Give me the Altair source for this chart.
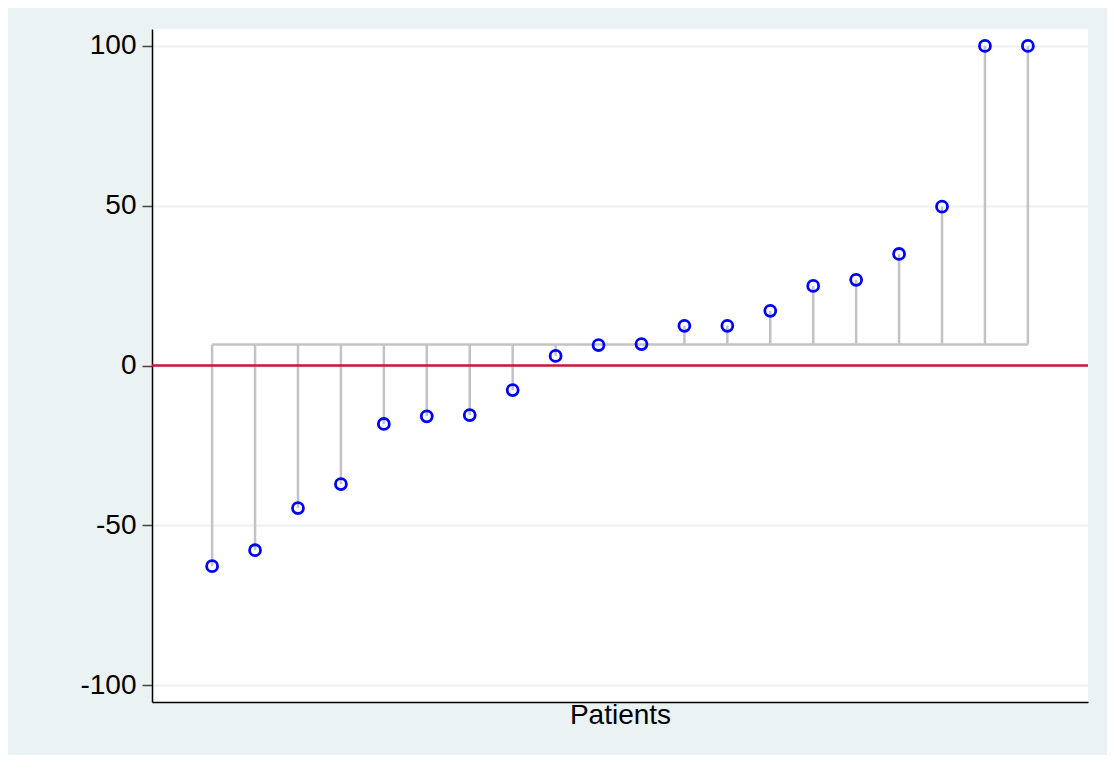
import altair as alt
import pandas as pd

patients = list(range(1, 21))
values = [-62.8, -57.8, -44.6, -37.1, -18.3, -15.9, -15.5, -7.7, 3.0, 6.4,
          6.7, 12.4, 12.4, 17.1, 24.9, 26.8, 34.9, 49.7, 100, 100]
baseline = 6.55
y_ticks = [-100, -50, 0, 50, 100]

df = pd.DataFrame({"patient": patients, "value": values, "base": [baseline] * len(values)})
base_df = pd.DataFrame({"x1": [patients[0]], "x2": [patients[-1]], "y": [baseline]})
zero_df = pd.DataFrame({"y": [0]})

xscale = alt.Scale(domain=[-0.4, 21.4], nice=False, zero=False)
yscale = alt.Scale(domain=[-105.3, 105.3], nice=False, zero=False)

xaxis = alt.Axis(title="Patients", labels=False, ticks=False, grid=False,
                 domainColor="#000000", domainWidth=1.5,
                 titleFont="Liberation Sans", titleFontSize=28, titleFontWeight="normal",
                 titleColor="#000000", titlePadding=-1)
yaxis = alt.Axis(title=None, values=y_ticks, grid=True, gridColor="#EAF2F3", gridWidth=2,
                 labelFont="Liberation Sans", labelFontSize=28, labelColor="#000000",
                 labelExpr="datum.value < 0 ? '-' + abs(datum.value) : '' + datum.value",
                 labelPadding=6, tickSize=10, tickColor="#444444", tickWidth=1.5,
                 domainColor="#000000", domainWidth=1.5)

stems = alt.Chart(df).mark_rule(color="#C3C3C3", strokeWidth=2.5).encode(
    x=alt.X("patient:Q", scale=xscale, axis=xaxis),
    y=alt.Y("base:Q", scale=yscale, axis=yaxis),
    y2="value:Q",
)

hline = alt.Chart(base_df).mark_rule(color="#C3C3C3", strokeWidth=2.5).encode(
    x=alt.X("x1:Q", scale=xscale),
    x2="x2:Q",
    y=alt.Y("y:Q", scale=yscale),
)

zero = alt.Chart(zero_df).mark_rule(color="#C8163F", strokeWidth=2.5).encode(
    y=alt.Y("y:Q", scale=yscale),
)

points = alt.Chart(df).mark_point(shape="circle", filled=False, color="#0000FF",
                                  size=120, strokeWidth=2.8, opacity=1).encode(
    x=alt.X("patient:Q", scale=xscale),
    y=alt.Y("value:Q", scale=yscale),
)

chart = alt.layer(stems, hline, zero, points).properties(
    width=936, height=673,
    autosize=alt.AutoSizeParams(type="none"),
    padding={"left": 144, "top": 21, "right": 19, "bottom": 53},
    background="#EAF2F3",
).configure_view(fill="#FFFFFF", stroke=None)

chart.save("out.html", embed_options={"renderer": "svg", "actions": False})
